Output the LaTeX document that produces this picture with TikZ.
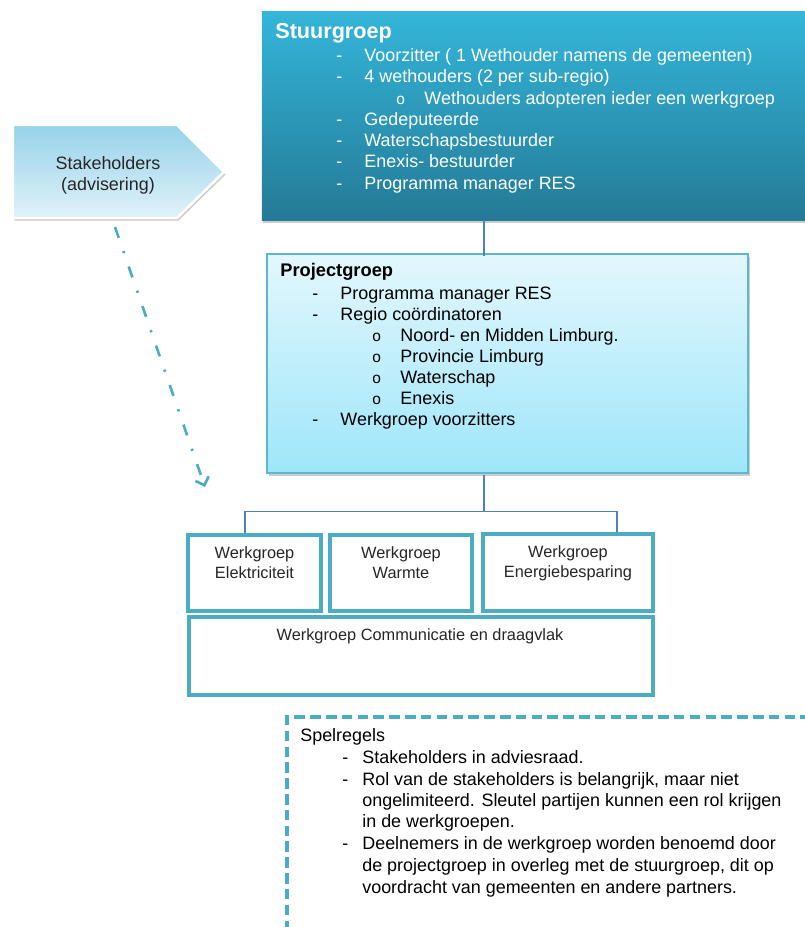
\documentclass[tikz,border=0pt]{standalone}
\usepackage{fontspec}
\setmainfont{Liberation Sans}
\usetikzlibrary{arrows.meta,fit,shadows}

\definecolor{stuurtop}{RGB}{52,182,218}
\definecolor{stuurbot}{RGB}{36,122,150}
\definecolor{projtop}{RGB}{227,247,253}
\definecolor{projbot}{RGB}{158,230,250}
\definecolor{projrand}{RGB}{90,184,208}
\definecolor{wgrand}{RGB}{75,172,198}
\definecolor{staketop}{RGB}{150,210,234}
\definecolor{stakebot}{RGB}{225,242,249}
\definecolor{verbind}{RGB}{79,129,189}

\newcommand{\streep}{\makebox[16pt][l]{-}}
\newcommand{\rondje}{\makebox[16pt][l]{\fontsize{8.8}{9}\selectfont o}}
\newcommand{\kortstreep}{\makebox[11.4pt][l]{-}}

\begin{document}
\begin{tikzpicture}[scale=0.2,
  regel/.style={anchor=base west, inner sep=0pt, font=\fontsize{10.2}{12}\selectfont},
  witregel/.style={regel, text=white},
  kop/.style={anchor=base west, inner sep=0pt, font=\bfseries\fontsize{10.4}{12}\selectfont},
  wgtekst/.style={anchor=base, inner sep=0pt, font=\fontsize{9.3}{11}\selectfont, text=black!85},
  wgbox/.style={inner sep=0pt, draw=wgrand, line width=1.8pt, fill=white},
  lijn/.style={draw=verbind, line width=0.7pt},
  pijl/.style={draw=wgrand, line width=1.5pt, dash pattern=on 6.5pt off 8pt on 1.3pt off 8pt,
    -{Straight Barb[length=4pt,width=8pt]}}]
\useasboundingbox (0,0) rectangle (80.5,-92.7);
\clip (0,0) rectangle (80.5,-92.7);
\coordinate (tak) at (48.4,-51.15);
\coordinate (takl) at (24.5,-51.15);
\coordinate (takr) at (61.7,-51.15);
% stuurgroep
\node [fit={(26.2,-1.1) (80.8,-22.0)}, inner sep=0pt, top color=stuurtop, bottom color=stuurbot,
  drop shadow={shadow xshift=0.6pt, shadow yshift=-1.8pt, opacity=0.4}] (stuur) {};
\node [anchor=base west, inner sep=0pt, text=white, font=\bfseries\fontsize{12.3}{14}\selectfont] (stuurkop) at (27.5,-3.85) {Stuurgroep};
\node [witregel] (s1) at (33.6,-6.15) {\streep Voorzitter ( 1 Wethouder namens de gemeenten)};
\node [witregel] (s2) at (33.6,-8.275) {\streep 4 wethouders (2 per sub-regio)};
\node [witregel] (s3) at (39.6,-10.4) {\rondje Wethouders adopteren ieder een werkgroep};
\node [witregel] (s4) at (33.6,-12.525) {\streep Gedeputeerde};
\node [witregel] (s5) at (33.6,-14.65) {\streep Waterschapsbestuurder};
\node [witregel] (s6) at (33.6,-16.775) {\streep Enexis- bestuurder};
\node [witregel] (s7) at (33.6,-18.9) {\streep Programma manager RES};
% stakeholders
\path [top color=staketop, bottom color=stakebot, draw=white, line width=1.4pt,
  drop shadow={shadow xshift=0.8pt, shadow yshift=-1.5pt, opacity=0.4}]
  (1.3,-12.5) -- (17.7,-12.5) -- (22.4,-17.2) -- (17.7,-21.8) -- (1.3,-21.8) -- cycle;
\node [anchor=base, inner sep=0pt, font=\fontsize{10.2}{12}\selectfont, text=black!85] (stake1) at (10.8,-16.9) {Stakeholders};
\node [anchor=base, inner sep=0pt, font=\fontsize{10.2}{12}\selectfont, text=black!85] (stake2) at (10.8,-19.0) {(advisering)};
\coordinate (stakeonder) at (11.5,-22.7);
\coordinate (wgpijl) at (20.5,-48.7);
\draw [pijl] (stakeonder) -- (wgpijl);
% projectgroep
\node [fit={(26.7,-25.4) (74.8,-47.3)}, inner sep=0pt, top color=projtop, bottom color=projbot,
  draw=projrand, line width=0.6pt, drop shadow={shadow xshift=1pt, shadow yshift=-1.5pt, opacity=0.4}] (proj) {};
\node [kop] (projkop) at (28.0,-27.6) {Projectgroep};
\node [regel] (p1) at (31.2,-29.95) {\streep Programma manager RES};
\node [regel] (p2) at (31.2,-32.0) {\streep Regio coördinatoren};
\node [regel] (p3) at (37.2,-34.15) {\rondje Noord- en Midden Limburg.};
\node [regel] (p4) at (37.2,-36.25) {\rondje Provincie Limburg};
\node [regel] (p5) at (37.2,-38.35) {\rondje Waterschap};
\node [regel] (p6) at (37.2,-40.4) {\rondje Enexis};
\node [regel] (p7) at (31.2,-42.5) {\streep Werkgroep voorzitters};
\draw [lijn] (stuur.south -| tak) -- ([yshift=-6pt]proj.north -| tak);
% werkgroepen
\node [wgbox, fit={(18.8,-53.5) (32.1,-61.1)}] (wg1) {};
\node [wgbox, fit={(33.0,-53.5) (47.2,-61.1)}] (wg2) {};
\node [wgbox, fit={(48.3,-53.4) (65.3,-61.1)}] (wg3) {};
\node [wgbox, fit={(18.9,-61.7) (65.3,-69.5)}] (wg4) {};
\node [wgtekst] (wg1a) at (25.45,-55.8) {Werkgroep};
\node [wgtekst] (wg1b) at (25.45,-57.8) {Elektriciteit};
\node [wgtekst] (wg2a) at (40.1,-55.8) {Werkgroep};
\node [wgtekst] (wg2b) at (40.1,-57.8) {Warmte};
\node [wgtekst] (wg3a) at (56.8,-55.7) {Werkgroep};
\node [wgtekst] (wg3b) at (56.8,-57.7) {Energiebesparing};
\node [wgtekst] (wg4a) at (42.0,-64.0) {Werkgroep Communicatie en draagvlak};
\draw [lijn] ([yshift=-3pt]proj.south -| tak) -- (tak);
\draw [lijn] (wg1.north -| takl) -- (takl) -- (takr) -- (wg3.north -| takr);
% spelregels
\node [fit={(28.7,-71.7) (82.0,-95.0)}, inner sep=0pt, draw=wgrand, line width=1.8pt,
  dash pattern=on 6pt off 3pt] (spel) {};
\node [anchor=base west, inner sep=0pt, font=\fontsize{10.2}{12}\selectfont] (spelkop) at (30.0,-74.1) {Spelregels};
\node [regel] (r1) at (34.2,-76.3) {\kortstreep Stakeholders in adviesraad.};
\node [regel] (r2) at (34.2,-78.5) {\kortstreep Rol van de stakeholders is belangrijk, maar niet};
\node [regel] (r3) at (36.2,-80.6) {ongelimiteerd. Sleutel partijen kunnen een rol krijgen};
\node [regel] (r4) at (36.2,-82.75) {in de werkgroepen.};
\node [regel] (r5) at (34.2,-84.95) {\kortstreep Deelnemers in de werkgroep worden benoemd door};
\node [regel] (r6) at (36.2,-87.1) {de projectgroep in overleg met de stuurgroep, dit op};
\node [regel] (r7) at (36.2,-89.3) {voordracht van gemeenten en andere partners.};
\end{tikzpicture}
\end{document}
